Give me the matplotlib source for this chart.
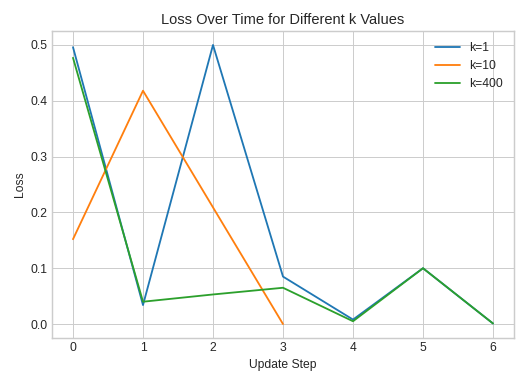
import matplotlib
matplotlib.use('Agg')
import matplotlib.pyplot as plt

steps = [0, 1, 2, 3, 4, 5, 6]
loss_k1 = [0.496, 0.034, 0.500, 0.085, 0.008, 0.100, 0.001]
steps_k10 = [0, 1, 2, 3]
loss_k10 = [0.152, 0.418, 0.209, 0.0]
loss_k400 = [0.477, 0.040, 0.053, 0.065, 0.005, 0.100, 0.001]

plt.style.use('seaborn-v0_8-whitegrid')
dpi = 87.7
fig, ax = plt.subplots(figsize=(526 / dpi, 383 / dpi), dpi=dpi)
fig.subplots_adjust(left=52 / 526, right=514 / 526, top=1 - 31 / 383, bottom=1 - 338 / 383)

ax.plot(steps, loss_k1, label='k=1')
ax.plot(steps_k10, loss_k10, label='k=10')
ax.plot(steps, loss_k400, label='k=400')

ax.set_title('Loss Over Time for Different k Values')
ax.set_xlabel('Update Step')
ax.set_ylabel('Loss')
ax.legend(loc='upper right')

for s in ax.spines.values():
    s.set_visible(True)
    s.set_color('#cccccc')
    s.set_linewidth(1.2)

plt.savefig('out.png', dpi=dpi)
